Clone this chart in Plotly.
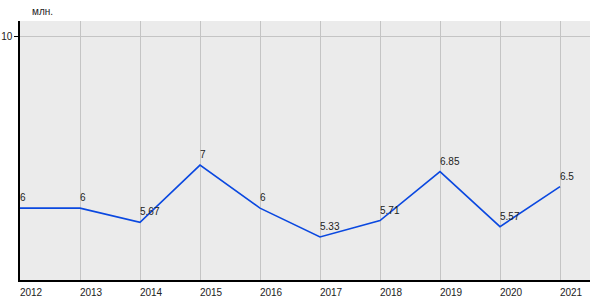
import plotly.graph_objects as go

years = [2012, 2013, 2014, 2015, 2016, 2017, 2018, 2019, 2020, 2021]
values = [6, 6, 5.67, 7, 6, 5.33, 5.71, 6.85, 5.57, 6.5]
labels = ["6", "6", "5.67", "7", "6", "5.33", "5.71", "6.85", "5.57", "6.5"]
unit = "млн."

FONT = "Liberation Sans, Arial, sans-serif"
TXT = dict(family=FONT, size=10, color="#222222")

fig = go.Figure()
fig.add_trace(go.Scatter(
    x=years, y=values, mode="lines",
    line=dict(color="#0a48e0", width=1.6),
    hoverinfo="skip",
))

annotations = [dict(text=unit, x=0, xref="paper", xanchor="left", xshift=10,
                    y=1, yref="paper", yanchor="bottom", yshift=2,
                    showarrow=False, font=TXT)]
for xv, yv, lab in zip(years, values, labels):
    annotations.append(dict(text=lab, x=xv, y=yv, xref="x", yref="y",
                            xanchor="left", yanchor="bottom", xshift=-2, yshift=3,
                            showarrow=False, font=TXT))

fig.update_layout(
    width=600, height=300,
    margin=dict(l=20, r=10, t=21, b=20, autoexpand=False),
    paper_bgcolor="white", plot_bgcolor="#ebebeb",
    showlegend=False,
    font=TXT,
    annotations=annotations,
)
fig.update_xaxes(
    range=[2012, 2021.5], tickvals=years, ticktext=[str(y) for y in years],
    showgrid=True, gridcolor="#c4c4c4", gridwidth=1,
    showline=True, linecolor="black", linewidth=1.5,
    ticks="", ticklabelshift=11, ticklabelstandoff=2,
    tickfont=TXT, automargin=False,
    zeroline=False, fixedrange=True,
)
fig.update_yaxes(
    range=[4.33, 10.35], tickvals=[10], ticktext=["10"],
    showgrid=True, gridcolor="#c4c4c4", gridwidth=1,
    showline=True, linecolor="black", linewidth=1.5,
    ticks="outside", ticklen=4, tickcolor="black",
    tickfont=TXT, automargin=False,
    zeroline=False, fixedrange=True,
)

fig.write_html("out.html")
